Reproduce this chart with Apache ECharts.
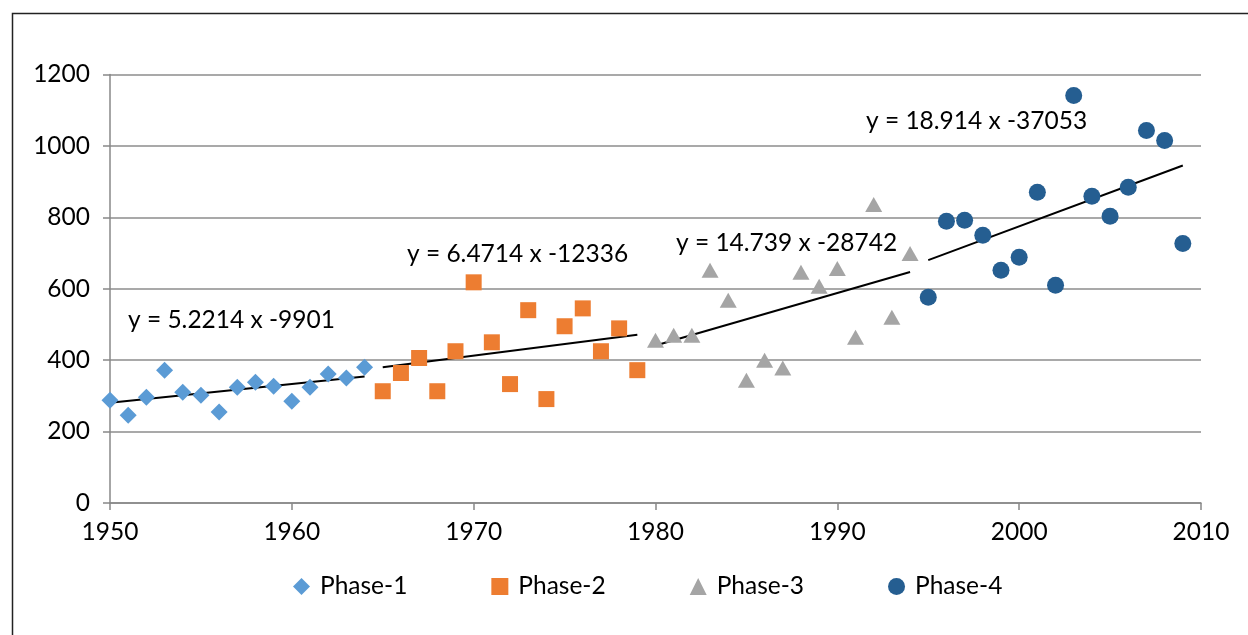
<!DOCTYPE html>
<html>
<head>
<meta charset="utf-8">
<script src="https://cdn.jsdelivr.net/npm/echarts@6/dist/echarts.min.js"></script>
<style>
html,body{margin:0;padding:0;background:#fff;}
#c{width:1248px;height:635px;}
</style>
</head>
<body>
<div id="c"></div>
<script>
const phase1Years = [1950,1951,1952,1953,1954,1955,1956,1957,1958,1959,1960,1961,1962,1963,1964];
const phase1Values = [288,246,296,372,310,302,255,324,338,327,285,324,361,350,380];
const phase2Years = [1965,1966,1967,1968,1969,1970,1971,1972,1973,1974,1975,1976,1977,1978,1979];
const phase2Values = [313,364,406,313,425,618,450,333,540,291,495,545,425,489,372];
const phase3Years = [1980,1981,1982,1983,1984,1985,1986,1987,1988,1989,1990,1991,1992,1993,1994];
const phase3Values = [456,470,470,652,568,344,400,378,646,607,657,464,836,520,699];
const phase4Years = [1995,1996,1997,1998,1999,2000,2001,2002,2003,2004,2005,2006,2007,2008,2009];
const phase4Values = [576,789,792,750,652,688,870,610,1141,859,803,884,1043,1015,727];

// trendline endpoints
const trend1 = [[1950,281],[1964,354]];
const trend2 = [[1965,380],[1979,471]];
const trend3 = [[1980,441],[1994,647]];
const trend4 = [[1995,680],[2009,945]];
const trendLabels = ['y = 5.2214 x -9901','y = 6.4714 x -12336','y = 14.739 x -28742','y = 18.914 x -37053'];

const seriesNames = ['Phase-1','Phase-2','Phase-3','Phase-4'];
const colors = ['#5B9BD5','#ED7D31','#A5A5A5','#255E91'];

const FONT = 'Lato';
const FS = 24.5;
function pts(xs, ys){ return xs.map((x,i)=>[x, ys[i]]); }

const chart = echarts.init(document.getElementById('c'));
const trendStyle = {type:'line', symbol:'none', silent:true, lineStyle:{color:'#000', width:2}, z:3, legendHoverLink:false};

chart.setOption({
  animation:false,
  backgroundColor:'#fff',
  textStyle:{fontFamily:FONT},
  grid:{left:110, right:47, top:74.5, bottom:132, containLabel:false},
  xAxis:{type:'value', min:1950, max:2010, interval:10,
    axisLine:{show:true, onZero:false, lineStyle:{color:'#888', width:1.5}},
    axisTick:{show:true, length:7, lineStyle:{color:'#888', width:1.5}},
    splitLine:{show:false},
    axisLabel:{color:'#000', fontSize:FS, fontFamily:FONT, margin:17, formatter:v=>String(v)}},
  yAxis:{type:'value', min:0, max:1200, interval:200,
    axisLine:{show:true, lineStyle:{color:'#888', width:1.5}},
    axisTick:{show:true, length:7, lineStyle:{color:'#888', width:1.5}},
    splitLine:{show:true, lineStyle:{color:'#8c8c8c', width:1.5}},
    axisLabel:{color:'#000', fontSize:FS, fontFamily:FONT, margin:20, formatter:v=>String(v)}},
  legend:{data:seriesNames, bottom:31, left:288, itemWidth:17, itemHeight:17, itemGap:84,
    textStyle:{fontSize:FS, color:'#000', fontFamily:FONT, padding:[0,0,0,5]}},
  graphic:[
    {type:'rect', shape:{x:12.5, y:13.5, width:1400, height:800}, style:{fill:null, stroke:'#222', lineWidth:1.5}, silent:true, z:-1},
    {type:'text', left:128, top:308, style:{text:trendLabels[0], font:FS+'px '+FONT, fill:'#000'}},
    {type:'text', left:407, top:242, style:{text:trendLabels[1], font:FS+'px '+FONT, fill:'#000'}},
    {type:'text', left:676, top:231, style:{text:trendLabels[2], font:FS+'px '+FONT, fill:'#000'}},
    {type:'text', left:866, top:109, style:{text:trendLabels[3], font:FS+'px '+FONT, fill:'#000'}}
  ],
  series:[
    {name:seriesNames[0], type:'scatter', symbol:'diamond', symbolSize:[17,17], data:pts(phase1Years,phase1Values), itemStyle:{color:colors[0], opacity:1}, z:4},
    {name:seriesNames[1], type:'scatter', symbol:'rect', symbolSize:16, data:pts(phase2Years,phase2Values), itemStyle:{color:colors[1], opacity:1}, z:4},
    {name:seriesNames[2], type:'scatter', symbol:'triangle', symbolSize:[17,15], data:pts(phase3Years,phase3Values), itemStyle:{color:colors[2], opacity:1}, z:4},
    {name:seriesNames[3], type:'scatter', symbol:'circle', symbolSize:17, data:pts(phase4Years,phase4Values), itemStyle:{color:colors[3], opacity:1}, z:4},
    Object.assign({name:'t1', data:trend1}, trendStyle),
    Object.assign({name:'t2', data:trend2}, trendStyle),
    Object.assign({name:'t3', data:trend3}, trendStyle),
    Object.assign({name:'t4', data:trend4}, trendStyle)
  ]
});
</script>
</body>
</html>
